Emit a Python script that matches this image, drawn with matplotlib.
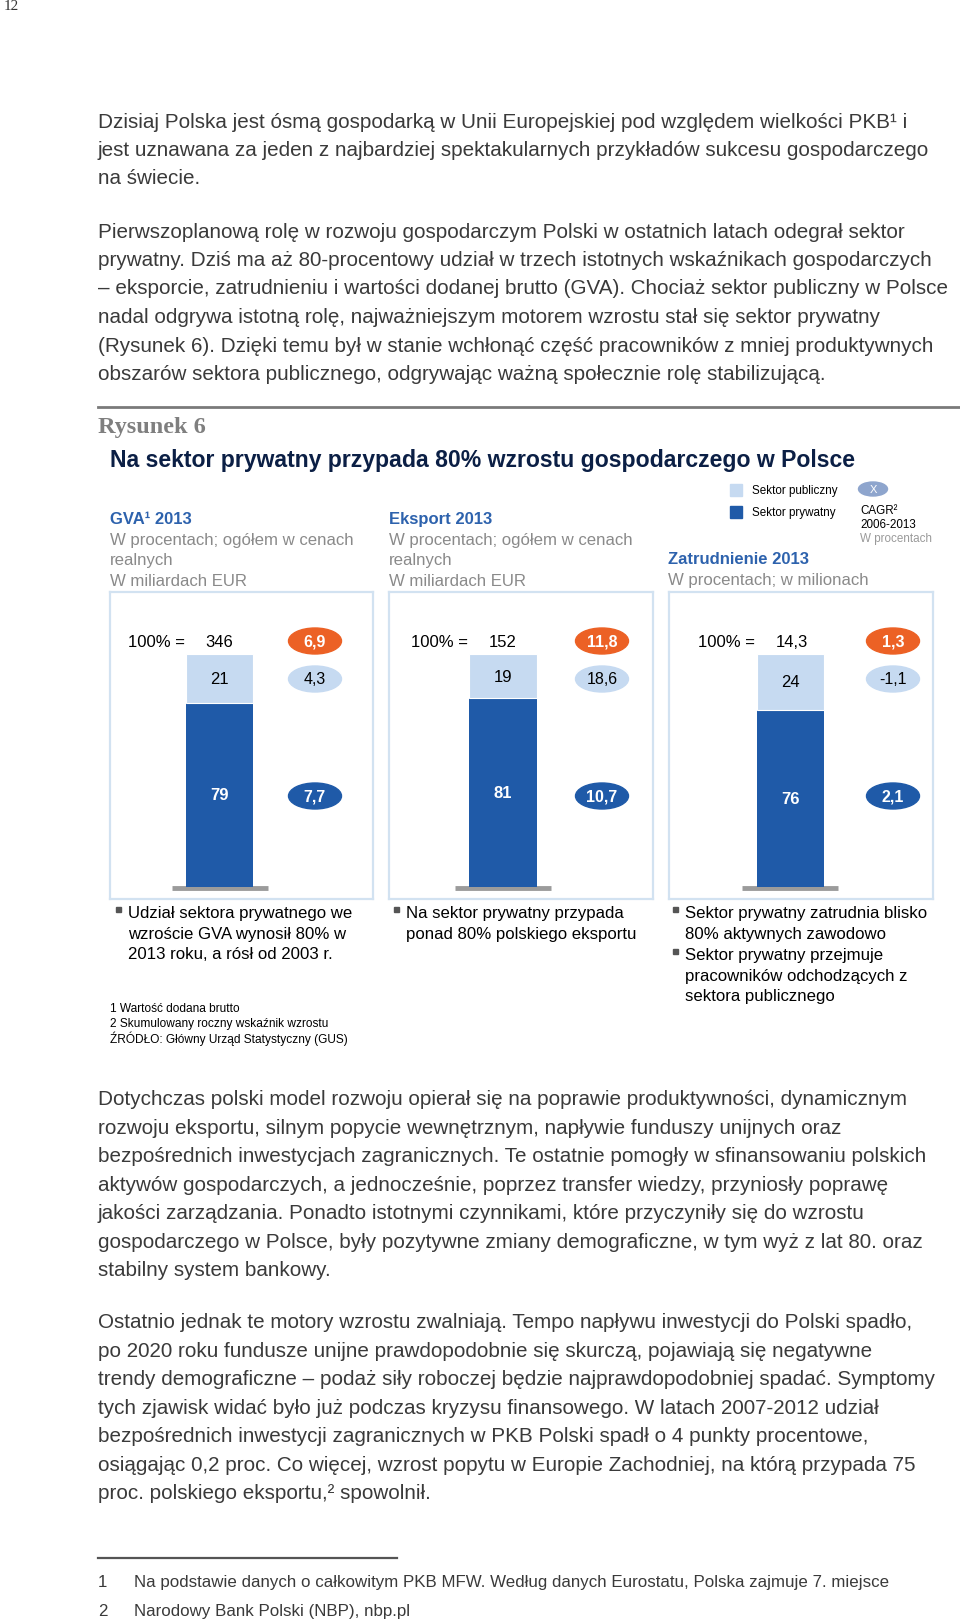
import matplotlib.pyplot as plt
from matplotlib.patches import Ellipse, Rectangle

# dane do wykresu
panel_titles = ['GVA¹ 2013', 'Eksport 2013', 'Zatrudnienie 2013']
public_share = [21, 19, 24]
private_share = [79, 81, 76]
totals = ['346', '152', '14,3']
cagr_total = ['6,9', '11,8', '1,3']
cagr_public = ['4,3', '18,6', '-1,1']
cagr_private = ['7,7', '10,7', '2,1']

para1 = ['Dzisiaj Polska jest ósmą gospodarką w Unii Europejskiej pod względem wielkości PKB¹ i',
         'jest uznawana za jeden z najbardziej spektakularnych przykładów sukcesu gospodarczego',
         'na świecie.']
para2 = ['Pierwszoplanową rolę w rozwoju gospodarczym Polski w ostatnich latach odegrał sektor',
         'prywatny. Dziś ma aż 80-procentowy udział w trzech istotnych wskaźnikach gospodarczych',
         '– eksporcie, zatrudnieniu i wartości dodanej brutto (GVA). Chociaż sektor publiczny w Polsce',
         'nadal odgrywa istotną rolę, najważniejszym motorem wzrostu stał się sektor prywatny',
         '(Rysunek 6). Dzięki temu był w stanie wchłonąć część pracowników z mniej produktywnych',
         'obszarów sektora publicznego, odgrywając ważną społecznie rolę stabilizującą.']
para3 = ['Dotychczas polski model rozwoju opierał się na poprawie produktywności, dynamicznym',
         'rozwoju eksportu, silnym popycie wewnętrznym, napływie funduszy unijnych oraz',
         'bezpośrednich inwestycjach zagranicznych. Te ostatnie pomogły w sfinansowaniu polskich',
         'aktywów gospodarczych, a jednocześnie, poprzez transfer wiedzy, przyniosły poprawę',
         'jakości zarządzania. Ponadto istotnymi czynnikami, które przyczyniły się do wzrostu',
         'gospodarczego w Polsce, były pozytywne zmiany demograficzne, w tym wyż z lat 80. oraz',
         'stabilny system bankowy.']
para4 = ['Ostatnio jednak te motory wzrostu zwalniają. Tempo napływu inwestycji do Polski spadło,',
         'po 2020 roku fundusze unijne prawdopodobnie się skurczą, pojawiają się negatywne',
         'trendy demograficzne – podaż siły roboczej będzie najprawdopodobniej spadać. Symptomy',
         'tych zjawisk widać było już podczas kryzysu finansowego. W latach 2007-2012 udział',
         'bezpośrednich inwestycji zagranicznych w PKB Polski spadł o 4 punkty procentowe,',
         'osiągając 0,2 proc. Co więcej, wzrost popytu w Europie Zachodniej, na którą przypada 75',
         'proc. polskiego eksportu,² spowolnił.']

plt.rcParams['font.family'] = ['Liberation Sans', 'DejaVu Sans']

W, H = 960, 1624
fig = plt.figure(figsize=(W / 100, H / 100), dpi=100)
bg = fig.add_axes([0, 0, 1, 1])
bg.set_xlim(0, W)
bg.set_ylim(H, 0)
bg.axis('off')

body_col = '#3a3a3a'
navy = '#0b1f45'
head_blue = '#2d62ad'
gray = '#8a8a8a'
dark = '#1f5aa8'
light = '#c6daf1'
orange = '#ec6125'


def txt(x, y, s, size=12, color='black', **kw):
    bg.text(x, y, s, fontsize=size, color=color, va='center', **kw)


# numer strony
txt(4, 6, '12', size=11, color='#333333', family='Liberation Serif')

# akapity tekstu
for lines, y0 in [(para1, 122), (para2, 232), (para3, 1100), (para4, 1323)]:
    for i, line in enumerate(lines):
        txt(98, y0 + i * 28.5, line, size=14.9, color=body_col)

# rysunek
bg.plot([98, 960], [408, 408], color='#7a7a7a', lw=2)
txt(98, 427, 'Rysunek 6', size=17.5, color='#7f7f7f', family='Liberation Serif', weight='bold')
txt(110, 461, 'Na sektor prywatny przypada 80% wzrostu gospodarczego w Polsce',
    size=16.6, color=navy, weight='bold')

# legenda
bg.add_patch(Rectangle((730, 485), 12, 12, color=light))
bg.add_patch(Rectangle((730, 507), 12, 12, color=dark))
txt(752, 491, 'Sektor publiczny', size=8.4)
txt(752, 513, 'Sektor prywatny', size=8.4)
bg.add_patch(Ellipse((873, 490), 29, 14, color='#8ea5cd'))
txt(873, 490, 'X', size=8, color='white', ha='center')
txt(860, 511, 'CAGR²', size=8.4)
txt(860, 525, '2006-2013', size=8.4)
txt(860, 539, 'W procentach', size=8.4, color='#9a9a9a')

# naglowki paneli
subs = [['W procentach; ogółem w cenach', 'realnych', 'W miliardach EUR'],
        ['W procentach; ogółem w cenach', 'realnych', 'W miliardach EUR'],
        ['W procentach; w milionach']]
head_x = [110, 389, 668]
head_y = [520, 520, 560]
for i in range(3):
    txt(head_x[i], head_y[i], panel_titles[i], size=12, color=head_blue, weight='bold')
    for j, s in enumerate(subs[i]):
        txt(head_x[i], head_y[i] + 20.5 * (j + 1), s, size=12.1, color=gray)

# panele z wykresami slupkowymi
box_x = [(110, 373), (389, 653), (669, 933)]
box_y = (593, 900)
bar_center = [219.7, 503, 790]
bar_px = 67
bar_top, bar_bot = 655, 888
ell_x = [315, 602, 893]
scale = (bar_bot - bar_top) / 100.0

for i in range(3):
    x0, x1 = box_x[i]
    ax = fig.add_axes([x0 / W, 1 - box_y[1] / H, (x1 - x0) / W, (box_y[1] - box_y[0]) / H])
    ax.set_facecolor('none')
    ax.set_xlim(x0, x1)
    ax.set_ylim(-(box_y[1] - bar_bot) / scale, (bar_bot - box_y[0]) / scale)
    ax.set_xticks([])
    ax.set_yticks([])
    for sp in ax.spines.values():
        sp.set_color('#d2e2f1')
        sp.set_linewidth(1.6)
    xc = bar_center[i]
    ax.hlines(-0.6, xc - 48, xc + 48, color='#9b9b9b', lw=3.5, zorder=1)
    ax.bar(xc, private_share[i], width=bar_px, color=dark, zorder=2)
    ax.bar(xc, public_share[i], width=bar_px, bottom=private_share[i], color=light,
           edgecolor='white', linewidth=0.8, zorder=2)
    ax.text(xc, private_share[i] / 2, str(private_share[i]), ha='center', va='center',
            fontsize=12, color='white', weight='bold')
    ax.text(xc, private_share[i] + public_share[i] / 2, str(public_share[i]), ha='center',
            va='center', fontsize=12, color='black')

    txt(xc - 92, 643, '100% =', size=12)
    txt(xc - 14, 643, totals[i], size=12)
    for val, yy, fc, tc, wt in [(cagr_total[i], 642, orange, 'white', 'bold'),
                                 (cagr_public[i], 680, light, 'black', 'normal'),
                                 (cagr_private[i], 797, dark, 'white', 'bold')]:
        bg.add_patch(Ellipse((ell_x[i], yy), 53, 26, color=fc))
        txt(ell_x[i], yy, val, size=11.5, color=tc, ha='center', weight=wt)

# punkty pod panelami
notes = [['Udział sektora prywatnego we', 'wzroście GVA wynosił 80% w', '2013 roku, a rósł od 2003 r.'],
         ['Na sektor prywatny przypada', 'ponad 80% polskiego eksportu'],
         ['Sektor prywatny zatrudnia blisko', '80% aktywnych zawodowo'],
         ['Sektor prywatny przejmuje', 'pracowników odchodzących z', 'sektora publicznego']]
note_x = [116, 394, 673, 673]
note_y = [914, 914, 914, 956]
for k, lines in enumerate(notes):
    bg.add_patch(Rectangle((note_x[k], note_y[k] - 6), 5, 5, color='#555555'))
    for j, s in enumerate(lines):
        txt(note_x[k] + 12, note_y[k] + 20.5 * j, s, size=12.1)

foot = ['1 Wartość dodana brutto', '2 Skumulowany roczny wskaźnik wzrostu',
        'ŹRÓDŁO: Główny Urząd Statystyczny (GUS)']
for j, s in enumerate(foot):
    txt(110, 1009 + 14.8 * j, s, size=8.6)

# przypisy na dole strony
bg.plot([98, 397], [1559, 1559], color='#555555', lw=1.6)
txt(98, 1583, '1', size=12.2, color=body_col)
txt(134, 1583, 'Na podstawie danych o całkowitym PKB MFW. Według danych Eurostatu, Polska zajmuje 7. miejsce',
    size=12.2, color=body_col)
txt(98, 1612, '2', size=12.2, color=body_col)
txt(134, 1612, 'Narodowy Bank Polski (NBP), nbp.pl', size=12.2, color=body_col)

fig.savefig('out.png', dpi=100)
